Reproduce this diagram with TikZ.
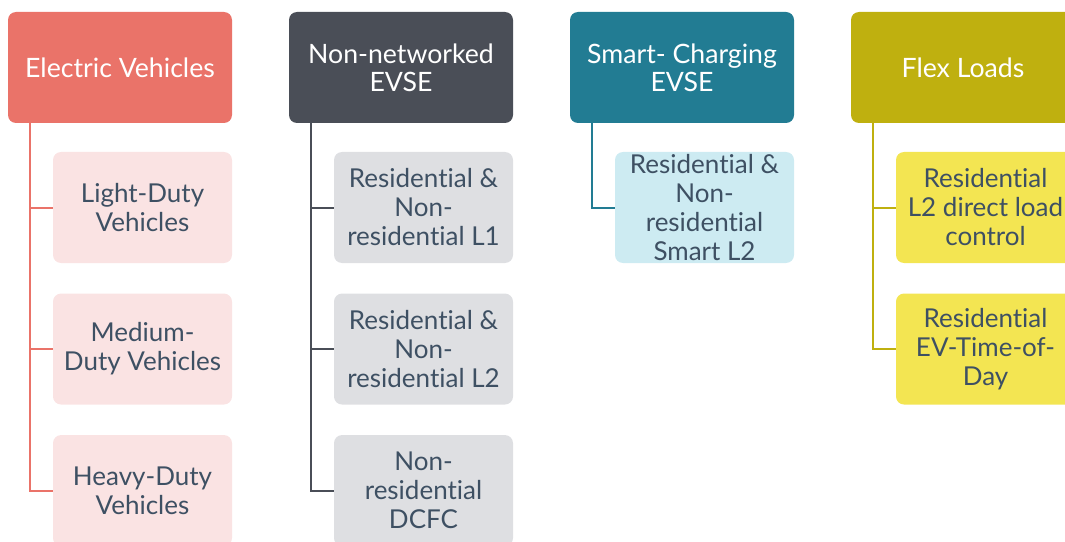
\documentclass[tikz,border=0pt]{standalone}
\usepackage{fontspec}
\setmainfont{Lato}[Ligatures={NoCommon, NoRare, NoDiscretionary}]
\usepackage{tikz}
\usetikzlibrary{calc, positioning}
\definecolor{EVRed}{RGB}{234, 115, 105}
\definecolor{EVPink}{RGB}{250, 227, 227}
\definecolor{NetGrey}{RGB}{74, 78, 87}
\definecolor{NetLight}{RGB}{222, 223, 226}
\definecolor{SmartTeal}{RGB}{34, 124, 147}
\definecolor{SmartLight}{RGB}{205, 235, 242}
\definecolor{FlexOlive}{RGB}{191, 176, 15}
\definecolor{FlexYellow}{RGB}{243, 229, 82}
\definecolor{TextSlate}{RGB}{62, 80, 99}

\begin{document}
\begin{tikzpicture}[x=0.75pt, y=-0.75pt,
    head/.style={rectangle, rounded corners=6pt, minimum width=168pt, minimum height=83.25pt,
        inner sep=0pt, align=center, text=white, font=\fontsize{20}{21}\selectfont},
    leaf/.style={rectangle, rounded corners=6pt, minimum width=134.25pt, minimum height=83.25pt,
        inner sep=0pt, align=center, text=TextSlate, font=\fontsize{19.5}{21.75}\selectfont},
    link/.style={line width=1.5pt}]
    \useasboundingbox (0,0) rectangle (1065,542);

    % Electric Vehicles
    \node[head, fill=EVRed] (ev) at (120,67.5) {Electric Vehicles};
    \node[leaf, fill=EVPink] (ev1) at (142.5,207.5) {Light-Duty\\Vehicles};
    \node[leaf, fill=EVPink, below=22.5pt of ev1] (ev2) {Medium-\\Duty Vehicles};
    \node[leaf, fill=EVPink, below=22.5pt of ev2] (ev3) {Heavy-Duty\\Vehicles};
    \foreach \k in {ev1, ev2, ev3}
        \draw[link, EVRed] ($(ev.south west)+(22,0)$) |- (\k.west);

    % Non-networked EVSE
    \node[head, fill=NetGrey] (net) at (401,67.5) {Non-networked\\EVSE};
    \node[leaf, fill=NetLight] (net1) at (423.5,207.5) {Residential \&\\Non-\\residential L1};
    \node[leaf, fill=NetLight, below=22.5pt of net1] (net2) {Residential \&\\Non-\\residential L2};
    \node[leaf, fill=NetLight, below=22.5pt of net2] (net3) {Non-\\residential\\DCFC};
    \foreach \k in {net1, net2, net3}
        \draw[link, NetGrey] ($(net.south west)+(22,0)$) |- (\k.west);

    % Smart-Charging EVSE
    \node[head, fill=SmartTeal] (smart) at (682,67.5) {Smart- Charging\\EVSE};
    \node[leaf, fill=SmartLight] (smart1) at (704.5,207.5) {Residential \&\\Non-\\residential\\Smart L2};
    \draw[link, SmartTeal] ($(smart.south west)+(22,0)$) |- (smart1.west);

    % Flex Loads
    \node[head, fill=FlexOlive] (flex) at (963,67.5) {Flex Loads};
    \node[leaf, fill=FlexYellow] (flex1) at (985.5,207.5) {Residential\\L2 direct load\\control};
    \node[leaf, fill=FlexYellow, below=22.5pt of flex1] (flex2) {Residential\\EV-Time-of-\\Day};
    \foreach \k in {flex1, flex2}
        \draw[link, FlexOlive] ($(flex.south west)+(22,0)$) |- (\k.west);
\end{tikzpicture}
\end{document}
